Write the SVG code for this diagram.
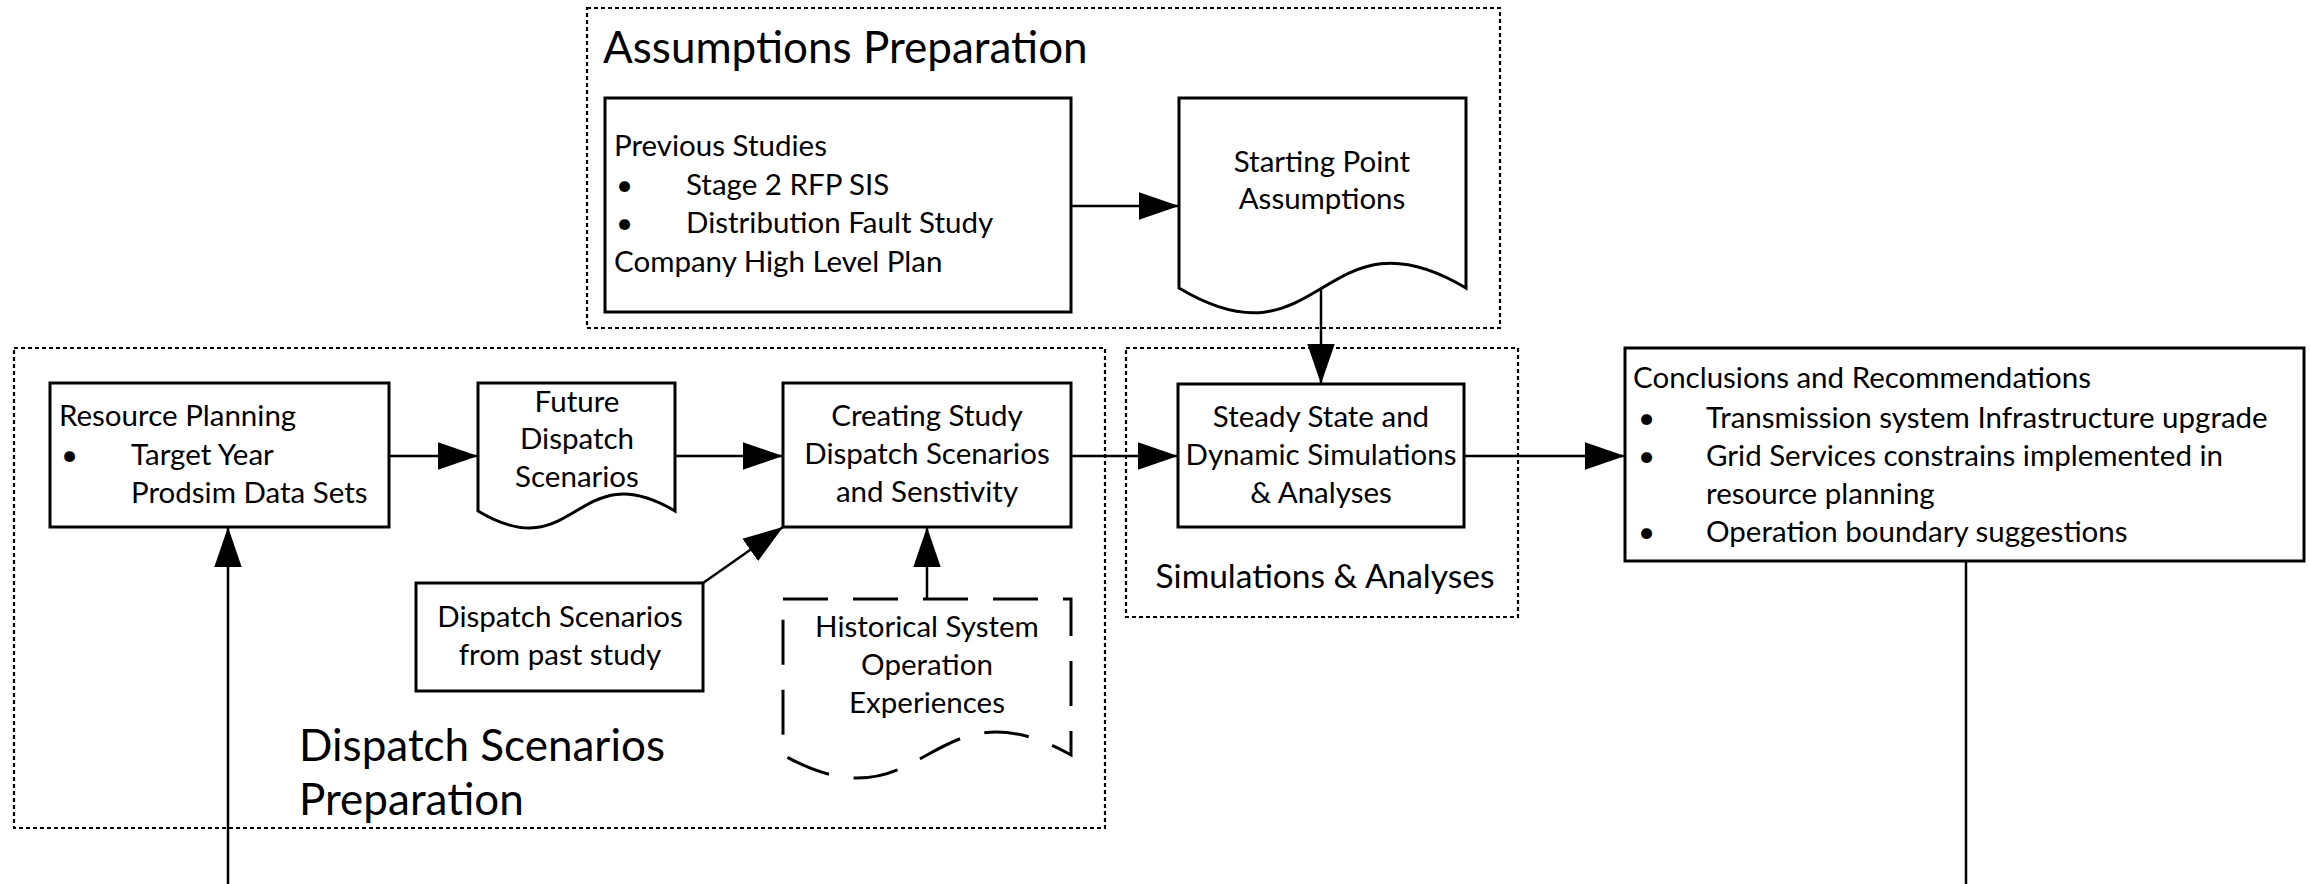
<svg xmlns="http://www.w3.org/2000/svg" width="2310" height="884" viewBox="0 0 2310 884">
  <style>
    text { font-family: Lato, "Liberation Sans", sans-serif; fill: #000; }
    .body { font-size: 29.5px; }
    .mid { text-anchor: middle; }
    .title { font-size: 44px; }
    .subtitle { font-size: 33.5px; }
    .box { fill: #fff; stroke: #000; stroke-width: 3; }
    .group { fill: none; stroke: #000; stroke-width: 2.2; stroke-dasharray: 4 3; }
    .dashed { stroke-dasharray: 45 25; }
    .conn { fill: none; stroke: #000; stroke-width: 2.5; }
    .arrow { marker-end: url(#head); }
  </style>
  <defs>
    <marker id="head" markerUnits="userSpaceOnUse" markerWidth="40" markerHeight="28" viewBox="0 0 38 26" refX="38" refY="13" orient="auto">
      <path d="M0,0 L38,13 L0,26 Z" fill="#000"/>
    </marker>
  </defs>

  <rect width="2310" height="884" fill="#fff"/>

  <!-- dotted grouping frames -->
  <g id="group-assumptions">
    <rect class="group" x="587" y="8" width="913" height="320"/>
    <text class="title" x="603" y="63">Assumptions Preparation</text>
  </g>
  <g id="group-dispatch">
    <rect class="group" x="14" y="348" width="1091" height="480"/>
    <text class="title" x="299" y="761">Dispatch Scenarios</text>
    <text class="title" x="299" y="815">Preparation</text>
  </g>
  <g id="group-simulations">
    <rect class="group" x="1126" y="348" width="392" height="269"/>
    <text class="subtitle mid" x="1325" y="588">Simulations &amp; Analyses</text>
  </g>

  <!-- connectors -->
  <g id="connectors">
    <path class="conn arrow" d="M1071,206 L1179,206"/>
    <path class="conn arrow" d="M1321,288 L1321,384"/>
    <path class="conn arrow" d="M389,456 L478,456"/>
    <path class="conn arrow" d="M675,456 L783,456"/>
    <path class="conn arrow" d="M1071,456 L1178,456"/>
    <path class="conn arrow" d="M1464,456 L1625,456"/>
    <path class="conn arrow" d="M228,884 L228,527"/>
    <path class="conn arrow" d="M703,583 L783,527"/>
    <path class="conn arrow" d="M927,599 L927,527"/>
    <path class="conn" d="M1966,561 L1966,884"/>
  </g>

  <!-- nodes -->
  <g id="previous-studies">
    <rect class="box" x="605" y="98" width="466" height="214"/>
    <text class="body" x="614" y="156">Previous Studies</text>
    <text class="body" x="616" y="195">•</text>
    <text class="body" x="686" y="195">Stage 2 RFP SIS</text>
    <text class="body" x="616" y="233">•</text>
    <text class="body" x="686" y="233">Distribution Fault Study</text>
    <text class="body" x="614" y="272">Company High Level Plan</text>
  </g>

  <g id="starting-point">
    <path class="box" d="M1179,98 H1466 V288 C1322,202 1322,374 1179,288 Z"/>
    <text class="body mid" x="1322" y="172">Starting Point</text>
    <text class="body mid" x="1322" y="209">Assumptions</text>
  </g>

  <g id="resource-planning">
    <rect class="box" x="50" y="383" width="339" height="144"/>
    <text class="body" x="59" y="426">Resource Planning</text>
    <text class="body" x="61" y="465">•</text>
    <text class="body" x="131" y="465">Target Year</text>
    <text class="body" x="131" y="503">Prodsim Data Sets</text>
  </g>

  <g id="future-dispatch">
    <path class="box" d="M478,383 H675 V511 C576,452 576,570 478,511 Z"/>
    <text class="body mid" x="577" y="412">Future</text>
    <text class="body mid" x="577" y="449">Dispatch</text>
    <text class="body mid" x="577" y="487">Scenarios</text>
  </g>

  <g id="creating-study">
    <rect class="box" x="783" y="383" width="288" height="144"/>
    <text class="body mid" x="927" y="426">Creating Study</text>
    <text class="body mid" x="927" y="464">Dispatch Scenarios</text>
    <text class="body mid" x="927" y="502">and Senstivity</text>
  </g>

  <g id="past-study">
    <rect class="box" x="416" y="583" width="287" height="108"/>
    <text class="body mid" x="560" y="627">Dispatch Scenarios</text>
    <text class="body mid" x="560" y="665">from past study</text>
  </g>

  <g id="historical-operation">
    <path class="box dashed" d="M783,599 H1071 V755 C927,675 927,835 783,755 Z"/>
    <text class="body mid" x="927" y="637">Historical System</text>
    <text class="body mid" x="927" y="675">Operation</text>
    <text class="body mid" x="927" y="713">Experiences</text>
  </g>

  <g id="steady-state">
    <rect class="box" x="1178" y="384" width="286" height="143"/>
    <text class="body mid" x="1321" y="427">Steady State and</text>
    <text class="body mid" x="1321" y="465">Dynamic Simulations</text>
    <text class="body mid" x="1321" y="503">&amp; Analyses</text>
  </g>

  <g id="conclusions">
    <rect class="box" x="1625" y="348" width="679" height="213"/>
    <text class="body" x="1633" y="388">Conclusions and Recommendations</text>
    <text class="body" x="1638" y="428">•</text>
    <text class="body" x="1706" y="428">Transmission system Infrastructure upgrade</text>
    <text class="body" x="1638" y="466">•</text>
    <text class="body" x="1706" y="466">Grid Services constrains implemented in</text>
    <text class="body" x="1706" y="504">resource planning</text>
    <text class="body" x="1638" y="542">•</text>
    <text class="body" x="1706" y="542">Operation boundary suggestions</text>
  </g>
</svg>
